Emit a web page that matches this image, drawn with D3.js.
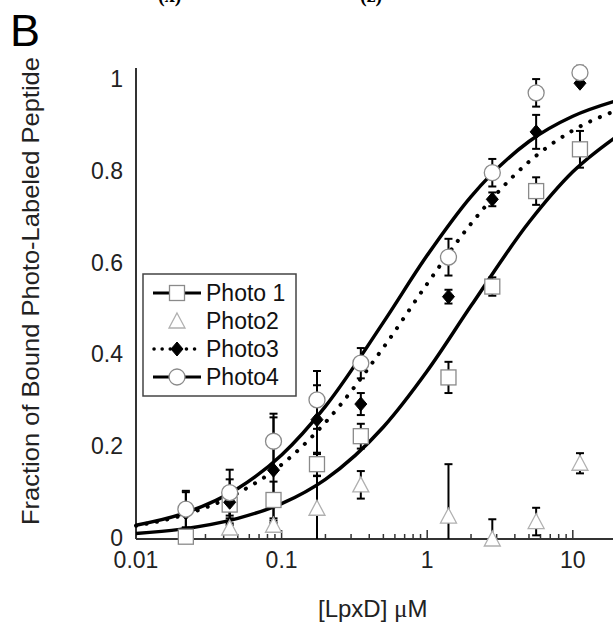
<!DOCTYPE html>
<html>
<head>
<meta charset="utf-8">
<script src="https://cdn.jsdelivr.net/npm/d3@7"></script>
<style>
  body { margin: 0; background: #fff; }
  svg { display: block; font-family: "Liberation Sans", Arial, sans-serif; }
</style>
</head>
<body>
<div id="chart"></div>
<script>
// concentrations used in the experiment (uM)
var conc = [0.022, 0.044, 0.088, 0.175, 0.35, 1.4, 2.8, 5.6, 11.2];

// fraction bound
var photo1 = [0.005, 0.075, 0.085, 0.163, 0.224, 0.352, 0.55, 0.758, 0.849];
var photo1Err = [0.02, 0.03, 0.04, 0.025, 0.027, 0.034, 0.02, 0.03, 0.04];
var photo2 = [null, 0.024, 0.03, 0.067, 0.118, 0.05, 0.0, 0.038, 0.165];
var photo2Err = [0, 0.01, 0.01, 0.07, 0.03, 0.113, 0.043, 0.03, 0.022];
var photo3 = [0.057, 0.08, 0.15, 0.26, 0.294, 0.528, 0.74, 0.887, 0.993];
var photo3Err = [0.045, 0.05, 0.115, 0.075, 0.024, 0.015, 0.015, 0.037, 0];
var photo4 = [0.065, 0.101, 0.213, 0.303, 0.383, 0.614, 0.798, 0.972, 1.016];
var photo4Err = [0.04, 0.05, 0.06, 0.063, 0.033, 0.04, 0.03, 0.03, 0.015];

// fitted curves
var fitConc = [0.01, 0.02, 0.05, 0.1, 0.2, 0.5, 1, 2, 5, 10, 20];
var fit1 = [0.012, 0.021, 0.045, 0.077, 0.130, 0.244, 0.366, 0.508, 0.690, 0.800, 0.877];
var fit3 = [0.029, 0.050, 0.100, 0.162, 0.254, 0.417, 0.556, 0.687, 0.822, 0.890, 0.934];
var fit4 = [0.030, 0.053, 0.110, 0.183, 0.289, 0.472, 0.618, 0.746, 0.866, 0.921, 0.955];

var xTickLabels = ["0.01", "0.1", "1", "10"];
var yTickLabels = ["0", "0.2", "0.4", "0.6", "0.8", "1"];
var legendNames = ["Photo 1", "Photo2", "Photo3", "Photo4"];

var width = 613, height = 623;
var x0 = 136, y0 = 539;

var svg = d3.select("#chart").append("svg")
  .attr("width", width)
  .attr("height", height);

var x = d3.scaleLog().domain([0.01, 20]).range([x0, x0 + 145.6 * Math.log10(2000)]);
var y = d3.scaleLinear().domain([0, 1]).range([y0, 80]);

// caption of the panel above, cut by the top edge as in the figure
svg.append("text").attr("x", 158).attr("y", 2).attr("font-family", "Liberation Serif, serif")
  .attr("font-weight", "bold").attr("font-size", 20).text("(x)");
svg.append("text").attr("x", 360).attr("y", 2).attr("font-family", "Liberation Serif, serif")
  .attr("font-weight", "bold").attr("font-size", 20).text("(z)");

svg.append("text").attr("x", 10).attr("y", 46).attr("font-size", 45).text("B");

// axes
svg.append("line").attr("x1", x0).attr("x2", width).attr("y1", y0).attr("y2", y0)
  .attr("stroke", "#333").attr("stroke-width", 2);
svg.append("line").attr("x1", x0).attr("x2", x0).attr("y1", y0).attr("y2", 68)
  .attr("stroke", "#333").attr("stroke-width", 2);

var ticks = x.ticks().filter(function(t) { return t > 0.01 && x(t) < width; });
svg.selectAll(".xtick").data(ticks).enter().append("line")
  .attr("class", "xtick")
  .attr("x1", function(d) { return x(d); })
  .attr("x2", function(d) { return x(d); })
  .attr("y1", y0)
  .attr("y2", function(d) { return Math.abs(Math.log10(d) - Math.round(Math.log10(d))) < 1e-6 ? y0 - 9 : y0 - 5; })
  .attr("stroke", "#333").attr("stroke-width", 1.5);

svg.selectAll(".xlab").data(xTickLabels).enter().append("text")
  .attr("x", function(d) { return x(+d); })
  .attr("y", 568)
  .attr("text-anchor", "middle")
  .attr("font-size", 23)
  .attr("fill", "#222")
  .text(function(d) { return d; });

svg.selectAll(".ylab").data(yTickLabels).enter().append("text")
  .attr("x", 123)
  .attr("y", function(d) { return y(+d) + 7; })
  .attr("text-anchor", "end")
  .attr("font-size", 23)
  .attr("fill", "#222")
  .text(function(d) { return d; });

svg.append("text")
  .attr("transform", "translate(38.5,525) rotate(-90)")
  .attr("font-size", 24)
  .attr("textLength", 468)
  .attr("lengthAdjust", "spacingAndGlyphs")
  .attr("fill", "#222")
  .text("Fraction of Bound Photo-Labeled Peptide");

var xl = svg.append("text")
  .attr("x", 318).attr("y", 617)
  .attr("font-size", 24)
  .attr("fill", "#222");
xl.append("tspan").text("[LpxD] ");
xl.append("tspan").attr("font-family", "Liberation Serif, serif").attr("font-size", 25).text("\u03BC");
xl.append("tspan").text("M");

// fitted curves
var line = d3.line()
  .x(function(d) { return x(d[0]); })
  .y(function(d) { return y(d[1]); })
  .curve(d3.curveMonotoneX);

var plot = svg.append("g");

function fitPath(vals, dotted) {
  var p = plot.append("path")
    .datum(fitConc.map(function(c, i) { return [c, vals[i]]; }))
    .attr("d", line)
    .attr("fill", "none")
    .attr("stroke", "#000");
  if (dotted) {
    p.attr("stroke-width", 4).attr("stroke-linecap", "round").attr("stroke-dasharray", "0.1 10.5");
  } else {
    p.attr("stroke-width", 3.5);
  }
}
fitPath(fit1, false);
fitPath(fit3, true);
fitPath(fit4, false);

// error bars
function errBars(vals, errs) {
  conc.forEach(function(c, i) {
    if (vals[i] == null || !errs[i]) return;
    var lo = Math.max(0, vals[i] - errs[i]), hi = vals[i] + errs[i];
    var cx = x(c);
    plot.append("line").attr("x1", cx).attr("x2", cx).attr("y1", y(lo)).attr("y2", y(hi))
      .attr("stroke", "#000").attr("stroke-width", 2);
    plot.append("line").attr("x1", cx - 4).attr("x2", cx + 4).attr("y1", y(hi)).attr("y2", y(hi))
      .attr("stroke", "#000").attr("stroke-width", 2);
    if (lo > 0) {
      plot.append("line").attr("x1", cx - 4).attr("x2", cx + 4).attr("y1", y(lo)).attr("y2", y(lo))
        .attr("stroke", "#000").attr("stroke-width", 2);
    }
  });
}
errBars(photo1, photo1Err);
errBars(photo2, photo2Err);
errBars(photo3, photo3Err);
errBars(photo4, photo4Err);

// marker shapes
function drawMarker(g, type, cx, cy) {
  if (type === "square") {
    g.append("rect").attr("x", cx - 7.5).attr("y", cy - 7.5).attr("width", 15).attr("height", 15)
      .attr("fill", "#fff").attr("stroke", "#8a8a8a").attr("stroke-width", 1.3);
  } else if (type === "triangle") {
    g.append("path").attr("d", "M" + cx + "," + (cy - 8) + "L" + (cx + 8) + "," + (cy + 7) + "L" + (cx - 8) + "," + (cy + 7) + "Z")
      .attr("fill", "#fff").attr("stroke", "#b0b0b0").attr("stroke-width", 1.3);
  } else if (type === "diamond") {
    g.append("path").attr("d", "M" + cx + "," + (cy - 7) + "L" + (cx + 6) + "," + cy + "L" + cx + "," + (cy + 7) + "L" + (cx - 6) + "," + cy + "Z")
      .attr("fill", "#000").attr("stroke", "#000").attr("stroke-width", 1);
  } else {
    g.append("circle").attr("cx", cx).attr("cy", cy).attr("r", 8)
      .attr("fill", "#fff").attr("stroke", "#8a8a8a").attr("stroke-width", 1.3);
  }
}

function markers(vals, type) {
  conc.forEach(function(c, i) {
    if (vals[i] == null) return;
    drawMarker(plot, type, x(c), y(vals[i]));
  });
}
markers(photo1, "square");
markers(photo2, "triangle");
markers(photo3, "diamond");
markers(photo4, "circle");

// legend
var legend = svg.append("g");
legend.append("rect").attr("x", 143).attr("y", 274).attr("width", 153).attr("height", 122)
  .attr("fill", "#fff").attr("stroke", "#444").attr("stroke-width", 1.5);
var legendTypes = ["square", "triangle", "diamond", "circle"];
var legendLines = ["solid", "none", "dotted", "solid"];
legendNames.forEach(function(name, i) {
  var ly = 293 + i * 28;
  if (legendLines[i] === "solid") {
    legend.append("line").attr("x1", 153).attr("x2", 201).attr("y1", ly).attr("y2", ly)
      .attr("stroke", "#000").attr("stroke-width", 3);
  } else if (legendLines[i] === "dotted") {
    legend.append("line").attr("x1", 154).attr("x2", 201).attr("y1", ly).attr("y2", ly)
      .attr("stroke", "#000").attr("stroke-width", 3.5).attr("stroke-linecap", "round")
      .attr("stroke-dasharray", "0.1 8");
  }
  drawMarker(legend, legendTypes[i], 177, ly);
  legend.append("text").attr("x", 206).attr("y", ly + 8).attr("font-size", 23).attr("fill", "#111").text(name);
});
</script>
</body>
</html>
